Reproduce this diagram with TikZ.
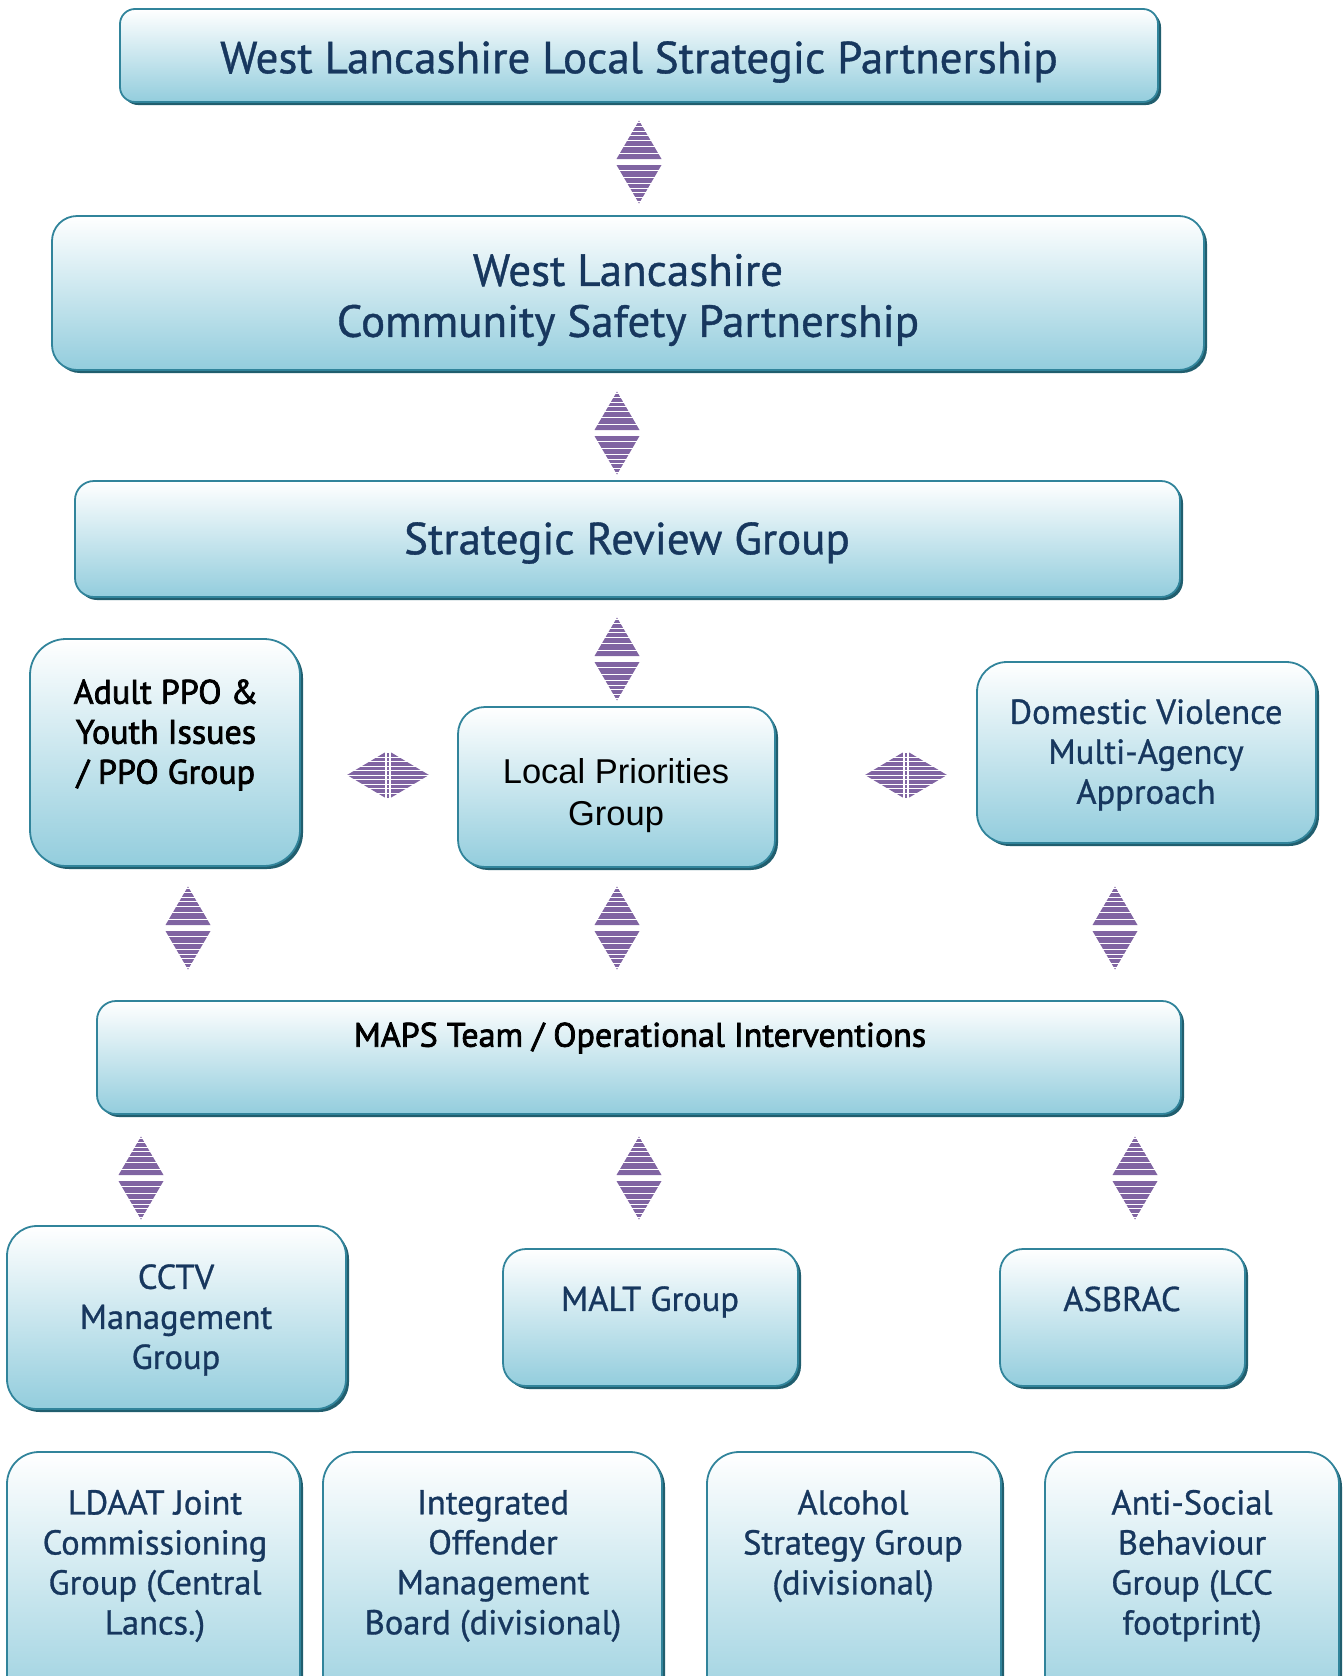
\documentclass[tikz,border=0pt]{standalone}
\usepackage{fontspec}
\setmainfont{PT Sans}
\newfontfamily\navyfont{PT Sans}[FakeBold=0.9]
\newfontfamily\blackfont{PT Sans}[FakeBold=2.2]
\newfontfamily\arialf{Liberation Sans}
\usetikzlibrary{shadows}
\definecolor{navy}{HTML}{17375E}
\definecolor{boxline}{HTML}{31849B}
\definecolor{boxshadow}{HTML}{215E6E}
\definecolor{boxbot}{HTML}{93CDDD}
\definecolor{arrowcol}{HTML}{8064A2}
\tikzset{
  box/.style={draw=boxline, line width=1.8pt, top color=white, bottom color=boxbot,
    general shadow={fill=boxshadow, shadow xshift=3pt, shadow yshift=-3pt},
    inner sep=0pt},
  bigtxt/.style={text=navy, font=\navyfont\fontsize{45}{51}\selectfont, align=center, inner sep=0pt},
  midtxt/.style={text=navy, font=\navyfont\fontsize{34.5}{40}\selectfont, align=center, inner sep=0pt},
  blktxt/.style={text=black, font=\blackfont\fontsize{34}{40}\selectfont, align=center, inner sep=0pt},
}
\newcommand\vdarr[2]{%
\begin{scope}[shift={(#1,#2)}]
\fill[arrowcol] (0,-41.5) -- (22.5,-3) -- (-22.5,-3) -- cycle;
\fill[arrowcol] (0,41.5) -- (22.5,3) -- (-22.5,3) -- cycle;
\foreach \o in {2,6,10.7,14.7,20,26.3,33.3} {
  \draw[white, line width=1.1pt] (-25,-41.5+\o) -- (25,-41.5+\o);
  \draw[white, line width=1.1pt] (-25,41.5-\o) -- (25,41.5-\o);}
\end{scope}}
\newcommand\hdarr[2]{%
\begin{scope}[shift={(#1,#2)}]
\fill[arrowcol] (-41,0) -- (-3.2,-22.5) -- (-3.2,22.5) -- cycle;
\fill[arrowcol] (41,0) -- (3.2,-22.5) -- (3.2,22.5) -- cycle;
\fill[arrowcol] (-1.4,-22.5) rectangle (1.4,22.5);
\foreach \o in {-18,-13.5,-9,-4.5,0,4.5,9,13.5,18} {
  \draw[white, line width=0.9pt] (-42,\o) -- (42,\o);}
\end{scope}}
\begin{document}
\begin{tikzpicture}[x=1pt,y=-1pt]
\useasboundingbox (0,0) rectangle (1344,1676);
\clip (0,0) rectangle (1344,1676);
% boxes
\node[box, rounded corners=15pt, minimum width=1038pt, minimum height=93pt] (lsp) at (639,55.5) {};
\node[bigtxt] (lspt) at (639,62) {West Lancashire Local Strategic Partnership};
\node[box, rounded corners=25pt, minimum width=1152pt, minimum height=154pt] (csp) at (628,293) {};
\node[bigtxt] (cspt) at (628,300) {West Lancashire\\Community Safety Partnership};
\node[box, rounded corners=19pt, minimum width=1105pt, minimum height=116pt] (srg) at (627.5,539) {};
\node[bigtxt] (srgt) at (627,543) {Strategic Review Group};
\node[box, rounded corners=36pt, minimum width=270pt, minimum height=227pt] (ppo) at (165,752.5) {};
\node[blktxt] (ppot) at (166,735) {Adult PPO \&\\Youth Issues\\/ PPO Group};
\node[box, rounded corners=27pt, minimum width=317pt, minimum height=160pt] (lp) at (616.5,787) {};
\node[text=black, align=center, inner sep=0pt, font=\arialf\fontsize{34.5}{42}\selectfont] (lpt) at (616,796) {Local Priorities\\Group};
\node[box, rounded corners=30pt, minimum width=339pt, minimum height=181pt] (dv) at (1146.5,752.5) {};
\node[midtxt] (dvt) at (1146,755) {Domestic Violence\\Multi-Agency\\Approach};
\node[box, rounded corners=19pt, minimum width=1084pt, minimum height=113pt] (maps) at (639,1057.5) {};
\node[blktxt] (mapst) at (640,1038) {MAPS Team / Operational Interventions};
\node[box, rounded corners=30pt, minimum width=339pt, minimum height=183pt] (cctv) at (176.5,1317.5) {};
\node[midtxt] (cctvt) at (176,1320) {CCTV\\Management\\Group};
\node[box, rounded corners=23pt, minimum width=295pt, minimum height=137pt] (malt) at (650.5,1317.5) {};
\node[midtxt] (maltt) at (650,1302) {MALT Group};
\node[box, rounded corners=23pt, minimum width=245pt, minimum height=137pt] (asbrac) at (1122.5,1317.5) {};
\node[midtxt] (asbract) at (1122,1299) {ASBRAC};
\node[box, rounded corners=32pt, minimum width=293pt, minimum height=280pt] (ldaat) at (153.5,1592) {};
\node[midtxt] (ldaatt) at (155,1566) {LDAAT Joint\\Commissioning\\Group (Central\\Lancs.)};
\node[box, rounded corners=32pt, minimum width=339pt, minimum height=280pt] (iom) at (492.5,1592) {};
\node[midtxt] (iomt) at (493,1566) {Integrated\\Offender\\Management\\Board (divisional)};
\node[box, rounded corners=32pt, minimum width=294pt, minimum height=280pt] (alc) at (854,1592) {};
\node[midtxt] (alct) at (853,1546) {Alcohol\\Strategy Group\\(divisional)};
\node[box, rounded corners=32pt, minimum width=294pt, minimum height=280pt] (asb) at (1192,1592) {};
\node[midtxt] (asbt) at (1192,1566) {Anti-Social\\Behaviour\\Group (LCC\\footprint)};
% arrows
\vdarr{639}{162}
\vdarr{617}{433}
\vdarr{617}{659}
\hdarr{388}{775}
\hdarr{906}{775}
\vdarr{188}{928}
\vdarr{617}{928}
\vdarr{1115}{928}
\vdarr{141}{1178}
\vdarr{639}{1178}
\vdarr{1135}{1178}
\end{tikzpicture}
\end{document}
